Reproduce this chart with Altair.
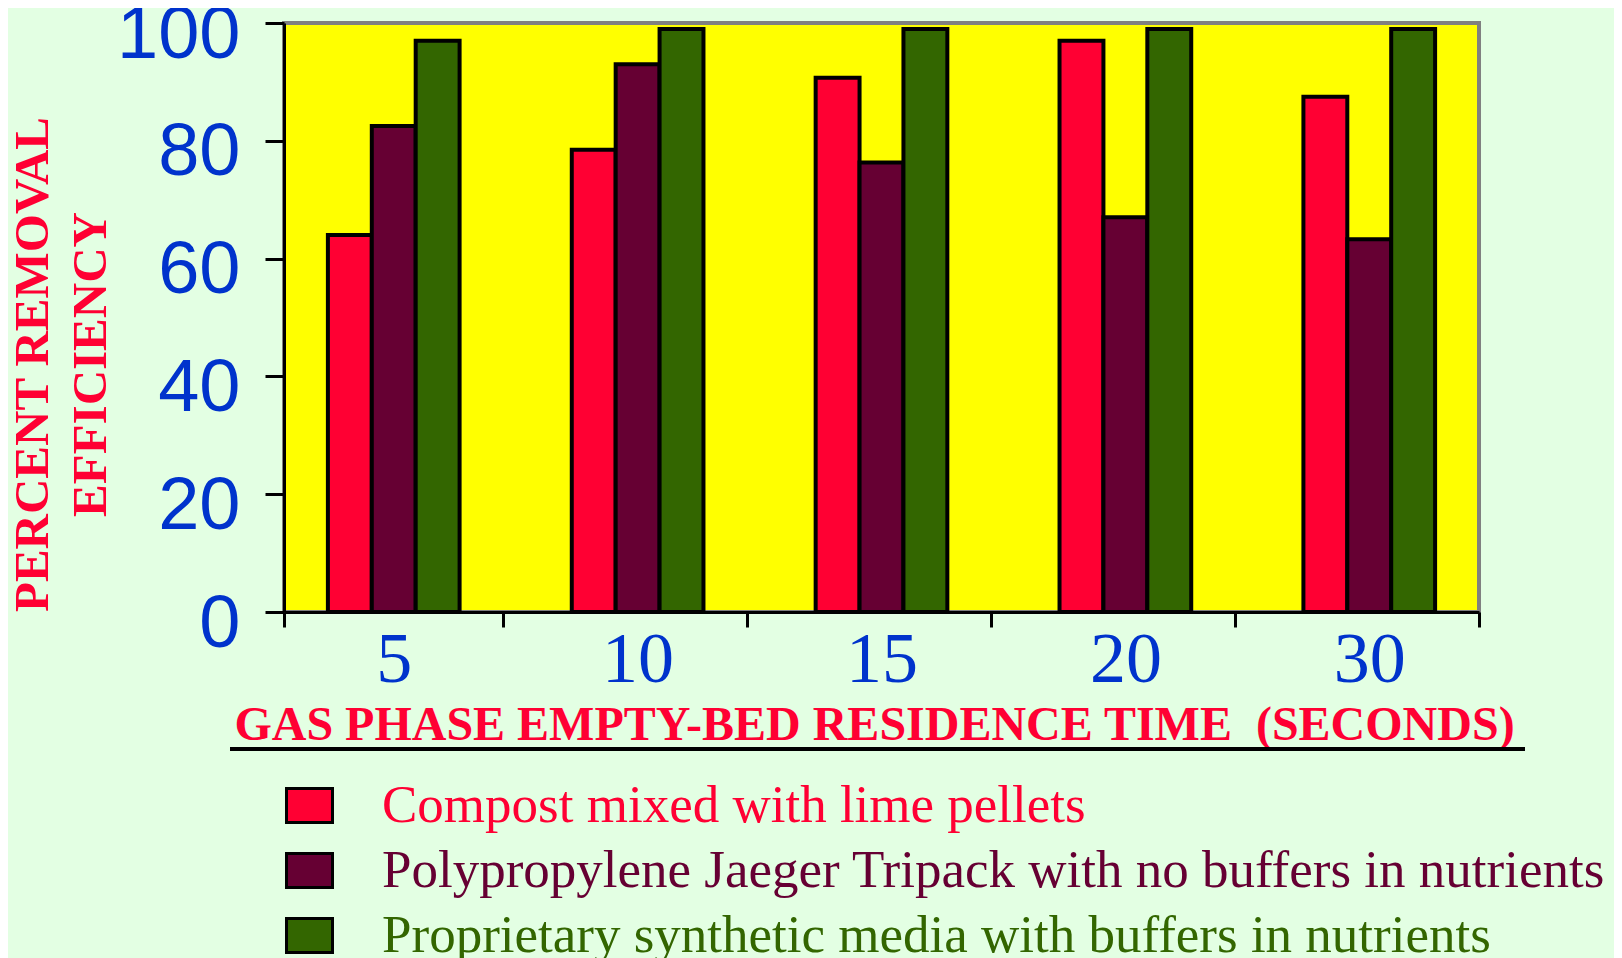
import altair as alt
import pandas as pd

# ---- data ----
times = ["5", "10", "15", "20", "30"]
series = [
    "Compost mixed with lime pellets",
    "Polypropylene Jaeger Tripack with no buffers in nutrients",
    "Proprietary synthetic media with buffers in nutrients",
]
compost = [64, 78.5, 90.7, 97, 87.5]
polyprop = [82.5, 93, 76.3, 67, 63.3]
synthetic = [97, 99, 99, 99, 99]
colors = ["#FF0033", "#660033", "#336600"]

rows = []
for s, vals in zip(series, [compost, polyprop, synthetic]):
    for t, v in zip(times, vals):
        rows.append({"time": t, "series": s, "value": v})
df = pd.DataFrame(rows)

W, H = 1195, 589

bars = alt.Chart(df).mark_bar(stroke="black", strokeWidth=4).encode(
    x=alt.X(
        "time:N",
        sort=times,
        scale=alt.Scale(paddingInner=0.1, paddingOuter=0),
        axis=alt.Axis(
            title="GAS PHASE EMPTY-BED RESIDENCE TIME \u00a0(SECONDS)",
            titleFont="Liberation Serif",
            titleFontWeight="bold",
            titleFontSize=48,
            titleColor="#FF0033",
            titleBaseline="alphabetic",
            titleY=127,
            titleX=590,
            labelAngle=0,
            labelFont="Liberation Serif",
            labelFontSize=72,
            labelColor="#0033CC",
            labelPadding=-3,
            tickBand="extent",
            tickSize=15,
            tickWidth=3,
            tickColor="black",
            domainColor="black",
            domainWidth=3,
        ),
    ),
    xOffset=alt.XOffset(
        "series:N",
        sort=series,
        scale=alt.Scale(paddingInner=0, paddingOuter=1),
    ),
    y=alt.Y(
        "value:Q",
        scale=alt.Scale(domain=[0, 100], nice=False),
        axis=alt.Axis(
            values=[0, 20, 40, 60, 80, 100],
            title=["PERCENT REMOVAL", "EFFICIENCY"],
            titleFont="Liberation Serif",
            titleFontWeight="bold",
            titleFontSize=49,
            titleColor="#FF0033",
            titleAngle=270,
            titleAlign="center",
            titleBaseline="middle",
            titleLineHeight=58,
            titleX=-252,
            titleY=341,
            labelFont="Liberation Sans",
            labelFontSize=74,
            labelColor="#0033CC",
            labelPadding=25,
            labelOffset=12,
            tickSize=19,
            tickWidth=3,
            tickColor="black",
            domainColor="black",
            domainWidth=3,
            grid=False,
        ),
    ),
    color=alt.Color(
        "series:N",
        sort=series,
        scale=alt.Scale(domain=series, range=colors),
        legend=alt.Legend(
            title=None,
            orient="none",
            legendX=-1,
            legendY=756,
            direction="vertical",
            padding=0,
            symbolType="M-1,-0.74L1,-0.74L1,0.74L-1,0.74Z",
            symbolSize=2116,
            symbolStrokeColor="black",
            symbolStrokeWidth=3,
            symbolOpacity=1,
            labelFont="Liberation Serif",
            labelFontSize=53,
            labelColor=alt.ExprRef(expr="scale('color', datum.value)"),
            labelLimit=0,
            labelOffset=46,
            rowPadding=11,
        ),
    ),
)

underline = alt.Chart(pd.DataFrame({"a": [0]})).mark_rule(
    color="black", strokeWidth=4
).encode(x=alt.value(-54), x2=alt.value(1241), y=alt.value(726))

chart = (
    alt.layer(bars, underline)
    .properties(
        width=W,
        height=H,
        autosize=alt.AutoSizeParams(type="none"),
        padding={"left": 276, "top": 15, "right": 135, "bottom": 370},
        background="#E3FFE3",
    )
    .configure_view(fill="#FFFF00", stroke="#808080", strokeWidth=4)
)

chart.save("out.html", embed_options={"renderer": "svg", "actions": False})
